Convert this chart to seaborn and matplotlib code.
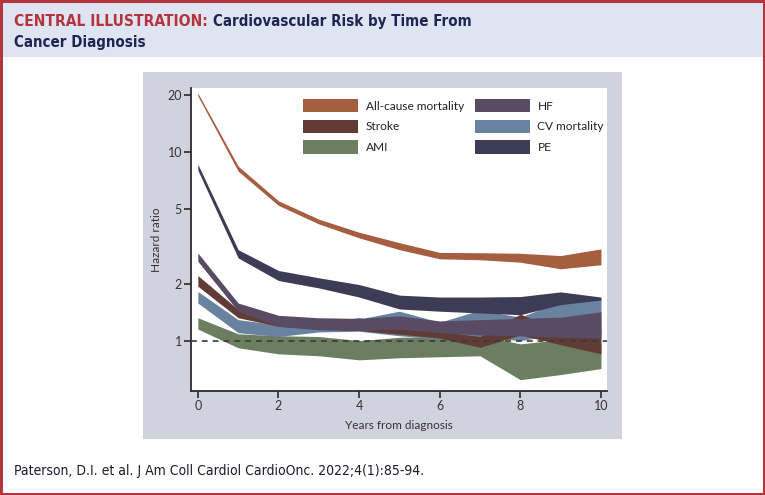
import matplotlib
matplotlib.use("Agg")
import matplotlib.pyplot as plt
import seaborn as sns
from matplotlib.patches import Rectangle, Patch
from matplotlib.ticker import FixedLocator, FixedFormatter, NullLocator

# ---------------- data ----------------
years = [0, 1, 2, 3, 4, 5, 6, 7, 8, 9, 10]

allcause_lo = [19.8, 7.9, 5.2, 4.15, 3.5, 3.03, 2.71, 2.68, 2.6, 2.4, 2.52]
allcause_hi = [20.5, 8.4, 5.5, 4.4, 3.75, 3.3, 2.93, 2.92, 2.9, 2.82, 3.06]

pe_lo = [8.0, 2.74, 2.08, 1.90, 1.70, 1.47, 1.43, 1.40, 1.37, 1.55, 1.64]
pe_hi = [8.6, 3.03, 2.35, 2.15, 1.98, 1.74, 1.70, 1.70, 1.71, 1.81, 1.70]

hf_lo = [2.63, 1.43, 1.19, 1.14, 1.13, 1.15, 1.10, 1.07, 1.06, 1.04, 1.03]
hf_hi = [2.91, 1.58, 1.36, 1.32, 1.31, 1.35, 1.27, 1.29, 1.31, 1.33, 1.42]

stroke_lo = [1.94, 1.32, 1.19, 1.15, 1.13, 1.08, 1.03, 0.92, 1.07, 0.95, 0.85]
stroke_hi = [2.21, 1.46, 1.28, 1.25, 1.32, 1.21, 1.12, 1.05, 1.38, 1.12, 1.15]

cv_lo = [1.58, 1.10, 1.05, 1.11, 1.12, 1.06, 1.02, 1.04, 1.00, 1.08, 1.10]
cv_hi = [1.82, 1.29, 1.21, 1.25, 1.30, 1.43, 1.25, 1.45, 1.33, 1.61, 1.67]

ami_lo = [1.15, 0.915, 0.85, 0.83, 0.79, 0.81, 0.82, 0.83, 0.62, 0.66, 0.71]
ami_hi = [1.32, 1.085, 1.06, 1.05, 1.00, 1.04, 1.05, 1.06, 0.96, 1.01, 0.97]

labels = ["All-cause mortality", "Stroke", "AMI", "HF", "CV mortality", "PE"]
colors = {
    "All-cause mortality": "#a55f40",
    "Stroke": "#613b36",
    "AMI": "#6b7e5f",
    "HF": "#594b63",
    "CV mortality": "#6882a0",
    "PE": "#3e3b56",
}
bands = {
    "AMI": (ami_lo, ami_hi),
    "CV mortality": (cv_lo, cv_hi),
    "Stroke": (stroke_lo, stroke_hi),
    "HF": (hf_lo, hf_hi),
    "PE": (pe_lo, pe_hi),
    "All-cause mortality": (allcause_lo, allcause_hi),
}
yticks = [1, 2, 5, 10, 20]
xticks = [0, 2, 4, 6, 8, 10]

# ---------------- style ----------------
sns.set_theme(style="ticks")
plt.rcParams["font.family"] = ["Lato", "DejaVu Sans"]

W, H = 765, 495
fig = plt.figure(figsize=(W / 100, H / 100), dpi=100)
fig.patch.set_facecolor("white")

def fx(px):
    return px / W

def fy(py):
    return 1 - py / H

# title band
fig.add_artist(Rectangle((0, fy(57)), 1, 57 / H, transform=fig.transFigure,
                         facecolor="#dfe4f3", edgecolor="none", zorder=-2))
# grey panel
fig.add_artist(Rectangle((fx(143), fy(439)), (622 - 143) / W, (439 - 72) / H,
                         transform=fig.transFigure, facecolor="#d2d2df",
                         edgecolor="none", zorder=-1))
# red frame
fig.add_artist(Rectangle((0.0013, 0.002), 0.9974, 0.996, transform=fig.transFigure,
                         fill=False, edgecolor="#b2363b", linewidth=2.2, zorder=20))

ax = fig.add_axes([fx(191), fy(391), (607 - 191) / W, (391 - 88) / H])
ax.set_facecolor("white")

for z, name in enumerate(bands):
    lo, hi = bands[name]
    ax.fill_between(years, lo, hi, color=colors[name], linewidth=0, zorder=2 + z)

ax.axhline(1, color="#3a3a3a", linestyle=(0, (3.5, 3)), linewidth=1.2, zorder=10)

ax.set_yscale("log")
ax.set_ylim(0.54, 21.8)
ax.set_xlim(-0.17, 10.15)
ax.yaxis.set_major_locator(FixedLocator(yticks))
ax.yaxis.set_major_formatter(FixedFormatter([str(v) for v in yticks]))
ax.yaxis.set_minor_locator(NullLocator())
ax.set_xticks(xticks)
ax.set_xticklabels([str(v) for v in xticks])

sns.despine(ax=ax)
for s in ("left", "bottom"):
    ax.spines[s].set_color("#2b2b2b")
    ax.spines[s].set_linewidth(1.3)
ax.tick_params(axis="both", colors="#2b2b2b", labelcolor="#333333",
               length=5, width=1.2, labelsize=9, pad=1.5)

ax.set_ylabel("Hazard ratio", fontsize=8.5, color="#333333", labelpad=4)
ax.set_xlabel("Years from diagnosis", fontsize=8.5, color="#333333", labelpad=6)

handles = [Patch(facecolor=colors[l], edgecolor="none") for l in labels]
ax.legend(handles, labels, ncol=2, loc="upper left",
          bbox_to_anchor=(fx(303), fy(99)), bbox_transform=fig.transFigure,
          frameon=False, fontsize=8.6, handlelength=4.6, handleheight=1.35,
          handletextpad=0.65, columnspacing=0.9, labelspacing=0.6,
          borderpad=0, borderaxespad=0, labelcolor="#222222")

# titles
tfam = ["DejaVu Sans"]
t1 = fig.text(fx(14), fy(26), "CENTRAL ILLUSTRATION:", color="#b5343c",
              fontsize=11.2, fontweight="bold", fontstretch="condensed",
              family=tfam, va="baseline")
fig.canvas.draw()
bb = t1.get_window_extent()
fig.text((bb.x1 + 5) / W, fy(26), "Cardiovascular Risk by Time From",
         color="#1b2653", fontsize=10.8, fontweight="bold", fontstretch="condensed",
         family=tfam, va="baseline")
fig.text(fx(14), fy(47), "Cancer Diagnosis", color="#1b2653", fontsize=10.8,
         fontweight="bold", fontstretch="condensed", family=tfam, va="baseline")
fig.text(fx(14), fy(475), "Paterson, D.I. et al. J Am Coll Cardiol CardioOnc. 2022;4(1):85-94.",
         color="#1c1c2c", fontsize=10, fontstretch="condensed", family=tfam,
         va="baseline")

fig.savefig("out.png", dpi=100)
